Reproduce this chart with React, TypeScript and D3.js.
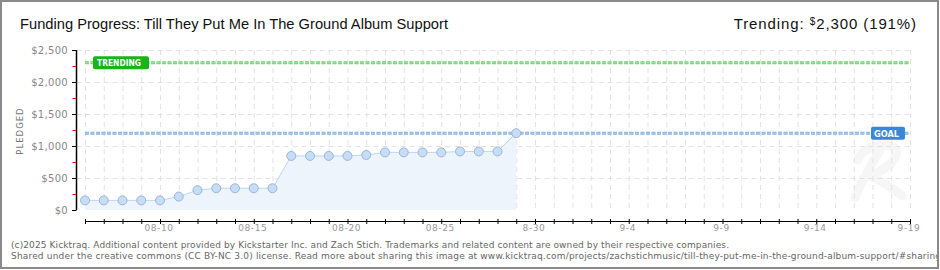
import React from "react";
import * as d3 from "d3";

const W = 940;
const H = 270;

const dates = [
  "2025-08-06","2025-08-07","2025-08-08","2025-08-09","2025-08-10","2025-08-11",
  "2025-08-12","2025-08-13","2025-08-14","2025-08-15","2025-08-16","2025-08-17",
  "2025-08-18","2025-08-19","2025-08-20","2025-08-21","2025-08-22","2025-08-23",
  "2025-08-24","2025-08-25","2025-08-26","2025-08-27","2025-08-28","2025-08-29",
];
const pledged = [
  150,150,150,150,150,210,310,340,340,340,340,845,845,845,845,860,900,900,900,900,915,915,915,1200,
];
const xTickDates = ["2025-08-10","2025-08-15","2025-08-20","2025-08-25","2025-08-30","2025-09-04","2025-09-09","2025-09-14","2025-09-19"];
const xTickLabels = ["08-10","08-15","08-20","08-25","8-30","9-4","9-9","9-14","9-19"];
const yTicks = [0, 500, 1000, 1500, 2000, 2500];
const yMinorTicks = [250, 750, 1250, 1750, 2250];
const goal = 1200;
const trending = 2300;
const xStart = "2025-08-06";
const xEnd = "2025-09-19";

const parse = (s: string) => new Date(s + "T00:00:00Z");

export default function App() {
  const x = d3.scaleUtc().domain([parse(xStart), parse(xEnd)]).range([85, 910]);
  const y = d3.scaleLinear().domain([0, 2500]).range([210, 50]);
  const days = d3.utcDay.range(parse(xStart), d3.utcDay.offset(parse(xEnd), 1));
  const pts = dates.map((d, i) => ({ d: parse(d), v: pledged[i] }));
  const line = d3.line<any>().x((p) => x(p.d)).y((p) => y(p.v));
  const area = d3.area<any>().x((p) => x(p.d)).y0(y(0)).y1((p) => y(p.v));
  const fmt = (v: number) => "$" + d3.format(",")(v);
  const xAxisY = 221;
  const yAxisX = 76.5;

  return (
    <svg width={W} height={H} style={{ position: "absolute", left: 0, top: 0, background: "#fff" }}>
      <rect x={1} y={1} width={W - 3} height={H - 3} fill="#fff" stroke="#8a8a8a" strokeWidth={2} />
      {/* watermark */}
      <path d="M 880 150 C 868 170, 860 185, 855 198 M 858 160 C 860 150, 880 140, 895 148 C 902 160, 880 172, 870 176 C 885 182, 895 190, 902 196" fill="none" stroke="#f6f6f6" strokeWidth={9} strokeLinecap="round" />
      {/* grid */}
      {yTicks.filter((t) => t > 0).map((t) => (
        <line key={"hg" + t} x1={yAxisX} x2={910} y1={y(t) + 0.5} y2={y(t) + 0.5} stroke="#e2e2e2" strokeDasharray="5,4" />
      ))}
      {days.map((d, i) => (
        <line key={"vg" + i} x1={x(d) + 0.5} x2={x(d) + 0.5} y1={y(2500)} y2={y(0)} stroke="#e2e2e2" strokeDasharray="5,4" />
      ))}
      {/* area + line */}
      <path d={area(pts) || ""} fill="#edf4fc" />
      <path d={line(pts) || ""} fill="none" stroke="#bcd7f3" strokeWidth={1} />
      {/* goal & trending lines */}
      <line x1={x(parse(xStart))} x2={910} y1={y(goal)} y2={y(goal)} stroke="#7fb0e3" strokeWidth={3} strokeDasharray="4,1.5" />
      <line x1={x(parse(xStart))} x2={910} y1={y(goal)} y2={y(goal)} stroke="#b7d3f1" strokeWidth={1} strokeDasharray="4,1.5" />
      <line x1={x(parse(xStart))} x2={910} y1={y(trending)} y2={y(trending)} stroke="#6cd06c" strokeWidth={3} strokeDasharray="4,1.5" />
      <line x1={x(parse(xStart))} x2={910} y1={y(trending)} y2={y(trending)} stroke="#a8e6a8" strokeWidth={1} strokeDasharray="4,1.5" />
      {/* points */}
      {pts.map((p, i) => (
        <circle key={"pt" + i} cx={x(p.d)} cy={y(p.v)} r={4.5} fill="#c6ddf7" stroke="#9db6d4" strokeWidth={1} />
      ))}
      {/* trending label */}
      <rect x={93} y={y(trending) - 6.5} width={56} height={13} rx={2} fill="#19b419" />
      <text x={97} y={y(trending) + 3.5} fill="#fff" fontFamily="DejaVu Sans" fontWeight="bold" fontSize={9} textLength={44} lengthAdjust="spacingAndGlyphs">TRENDING</text>
      {/* goal label */}
      <rect x={871} y={y(goal) - 6.5} width={34} height={13} rx={2} fill="#3b87d6" />
      <text x={874} y={y(goal) + 3.5} fill="#fff" fontFamily="DejaVu Sans" fontWeight="bold" fontSize={9} textLength={25} lengthAdjust="spacingAndGlyphs">GOAL</text>
      {/* y axis */}
      <line x1={yAxisX} x2={yAxisX} y1={y(2500)} y2={y(0)} stroke="#000" strokeWidth={1.5} />
      {yTicks.map((t) => (
        <g key={"yt" + t}>
          <line x1={72} x2={yAxisX} y1={y(t) + 0.5} y2={y(t) + 0.5} stroke="#000" />
          <text x={68} y={y(t) + 4} textAnchor="end" fill="#888" fontFamily="DejaVu Sans" fontSize={10} letterSpacing={0.3}>{fmt(t)}</text>
        </g>
      ))}
      {yMinorTicks.map((t) => (
        <line key={"ym" + t} x1={72.5} x2={76} y1={y(t) + 0.5} y2={y(t) + 0.5} stroke="#e00" />
      ))}
      <text transform={`translate(23,${(y(0) + y(2500)) / 2 + 1}) rotate(-90)`} textAnchor="middle" fill="#777" fontFamily="DejaVu Sans" fontSize={8.5} letterSpacing={1}>PLEDGED</text>
      {/* x axis */}
      <line x1={x(parse(xStart))} x2={910} y1={xAxisY + 0.5} y2={xAxisY + 0.5} stroke="#000" />
      {days.map((d, i) => (
        <line key={"xt" + i} x1={x(d) + 0.5} x2={x(d) + 0.5} y1={xAxisY - 2} y2={xAxisY + 3} stroke="#000" />
      ))}
      {xTickDates.map((d, i) => (
        <text key={"xl" + i} x={x(parse(d)) - 1} y={231} textAnchor="middle" fill="#999" fontFamily="DejaVu Sans" fontSize={9} letterSpacing={0.6}>{xTickLabels[i]}</text>
      ))}
      {/* title */}
      <text x={20} y={29} fill="#111" fontFamily="Liberation Sans Narrow, Liberation Sans" fontSize={15} textLength={428} lengthAdjust="spacingAndGlyphs">Funding Progress: Till They Put Me In The Ground Album Support</text>
      <text x={917} y={29} textAnchor="end" fill="#111" fontFamily="Liberation Sans Narrow, Liberation Sans" fontSize={15} letterSpacing={0.9}>
        Trending: <tspan fontSize={10} dy={-4}>$</tspan><tspan dy={4}>2,300 (191%)</tspan>
      </text>
      {/* footer */}
      <text x={11} y={248} fill="#666" fontFamily="DejaVu Sans" fontSize={9} textLength={718} lengthAdjust="spacing">(c)2025 Kicktraq. Additional content provided by Kickstarter Inc. and Zach Stich. Trademarks and related content are owned by their respective companies.</text>
      <text x={11} y={259} fill="#666" fontFamily="DejaVu Sans" fontSize={9} textLength={930} lengthAdjust="spacing">Shared under the creative commons (CC BY-NC 3.0) license. Read more about sharing this image at www.kicktraq.com/projects/zachstichmusic/till-they-put-me-in-the-ground-album-support/#sharing</text>
      <rect x={937} y={0} width={3} height={H} fill="#fff" />
      <line x1={938} x2={938} y1={0} y2={269} stroke="#8a8a8a" strokeWidth={2} />
    </svg>
  );
}
